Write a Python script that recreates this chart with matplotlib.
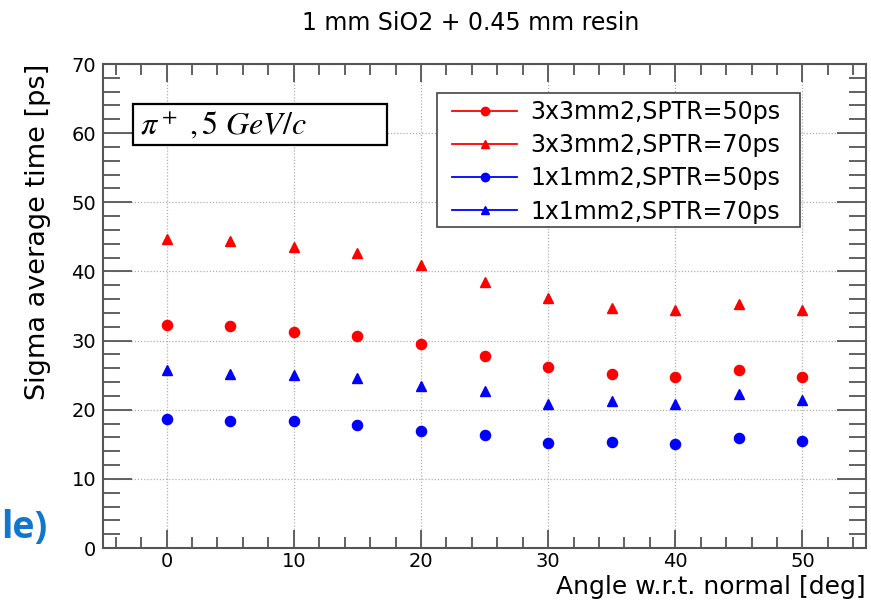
import numpy as np
import matplotlib.pyplot as plt
from matplotlib.patches import Rectangle

plt.rcParams['font.family'] = ['DejaVu Sans']
plt.rcParams['mathtext.fontset'] = 'stix'

# angle scan, 1 mm SiO2 + 0.45 mm resin, pi+ at 5 GeV/c
angle = [0, 5, 10, 15, 20, 25, 30, 35, 40, 45, 50]
sig_3x3_50 = [32.2, 32.1, 31.3, 30.6, 29.5, 27.7, 26.2, 25.1, 24.8, 25.7, 24.8]
sig_3x3_70 = [44.7, 44.4, 43.5, 42.6, 40.9, 38.5, 36.2, 34.7, 34.4, 35.3, 34.4]
sig_1x1_50 = [18.6, 18.3, 18.3, 17.8, 16.9, 16.3, 15.2, 15.4, 15.1, 15.9, 15.5]
sig_1x1_70 = [25.8, 25.2, 25.0, 24.6, 23.4, 22.7, 20.9, 21.2, 20.9, 22.3, 21.4]

labels = ['3x3mm2,SPTR=50ps', '3x3mm2,SPTR=70ps',
          '1x1mm2,SPTR=50ps', '1x1mm2,SPTR=70ps']

fig = plt.figure(figsize=(8.71, 6.05), dpi=100)
ax = fig.add_axes([0.1183, 0.0942, 0.8760, 0.8000])

series = [(sig_3x3_50, 'red', 'o'), (sig_3x3_70, 'red', '^'),
          (sig_1x1_50, 'blue', 'o'), (sig_1x1_70, 'blue', '^')]
handles = []
for (vals, col, mk), lab in zip(series, labels):
    ax.plot(angle, vals, ls='none', marker=mk, color=col,
            markersize=7.3 if mk == 'o' else 7.8, mec=col)
    # legend entry drawn as line + marker (ROOT "lp" style)
    h, = ax.plot([], [], ls='-', lw=1.3, marker=mk, color=col,
                 markersize=6 if mk == 'o' else 5.5, label=lab)
    handles.append(h)

ax.set_xlim(-5, 55)
ax.set_ylim(0, 70)
ax.set_xticks(np.arange(0, 51, 10))
ax.set_xticks(np.arange(-4, 55, 2), minor=True)
ax.set_yticks(np.arange(0, 71, 10))
ax.set_yticks(np.arange(0, 71, 2), minor=True)

ax.grid(True, which='major', ls=(0, (1, 1.5)), color='#b0b0b0', lw=0.9)
ax.tick_params(which='both', direction='in', top=True, right=True,
               color='#555555', width=1.3, labelsize=14)
ax.tick_params(axis='y', which='major', length=21, pad=5)
ax.tick_params(axis='y', which='minor', length=12)
ax.tick_params(axis='x', which='major', length=13, pad=3)
ax.tick_params(axis='x', which='minor', length=8)
for sp in ax.spines.values():
    sp.set_color('#555555')
    sp.set_linewidth(1.5)

ax.set_ylabel('Sigma average time [ps]', fontsize=19.5, loc='top')
ax.yaxis.set_label_coords(-0.068, 1.0)
ax.set_xlabel('Angle w.r.t. normal [deg]', fontsize=18, loc='right')
ax.xaxis.set_label_coords(1.0, -0.056)

fig.text(0.54, 0.962, '1 mm SiO2 + 0.45 mm resin', fontsize=17,
         ha='center', va='center')

# particle / momentum box
ax.add_patch(Rectangle((0.0393, 0.8326), 0.333, 0.0847, transform=ax.transAxes,
                       fc='white', ec='black', lw=1.6, zorder=5))
ax.text(0.0485, 0.873, r'$\pi^+\ ,5\ GeV/c$', transform=ax.transAxes,
        fontsize=23, va='center', ha='left', zorder=6)

# legend frame drawn separately so the box size is independent of the text
ax.add_patch(Rectangle(((437 - 103) / 763, (548 - 227) / 484), (800 - 437) / 763,
                       (227 - 93) / 484, transform=ax.transAxes,
                       fc='white', ec='#444444', lw=1.2, zorder=5))
leg = ax.legend(handles=handles, loc='upper left',
                bbox_to_anchor=((452 - 103) / 763, (548 - 100) / 484),
                borderaxespad=0, fontsize=17, handlelength=2.75,
                handletextpad=0.55, labelspacing=0.39, borderpad=0,
                frameon=False)
leg.set_zorder(6)

# slide text peeking in from the left
fig.text(1 / 871, (605 - 538) / 605, 'le)', fontsize=27, fontweight='bold',
         color='#1177cc', ha='left', va='baseline', family='Open Sans')

fig.savefig('out.png', dpi=100)
